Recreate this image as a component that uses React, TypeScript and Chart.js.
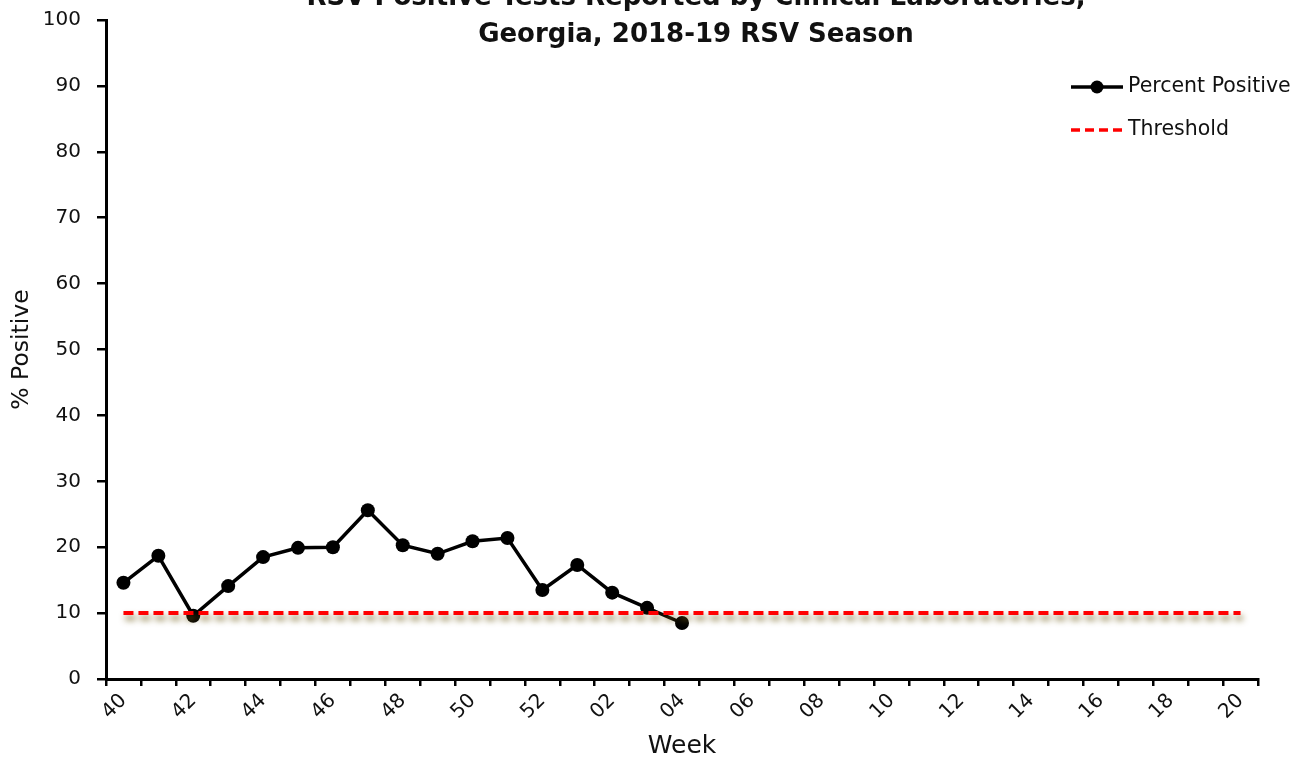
import React, { useEffect, useRef } from 'react';
import { Chart, registerables } from 'chart.js';

Chart.register(...registerables);

const weeks = [
  '40', '41', '42', '43', '44', '45', '46', '47', '48', '49', '50', '51', '52',
  '01', '02', '03', '04', '05', '06', '07', '08', '09', '10', '11', '12', '13',
  '14', '15', '16', '17', '18', '19', '20',
];

const percentPositive = [
  14.6, 18.7, 9.6, 14.1, 18.5, 19.9, 20.0, 25.6, 20.3, 19.0, 20.9, 21.4, 13.5,
  17.3, 13.1, 10.8, 8.5, null, null, null, null, null, null, null, null, null,
  null, null, null, null, null, null, null,
];

const threshold = [
  10, 10, 10, 10, 10, 10, 10, 10, 10, 10, 10, 10, 10, 10, 10, 10, 10, 10, 10,
  10, 10, 10, 10, 10, 10, 10, 10, 10, 10, 10, 10, 10, 10,
];

const titleLines = ['RSV Positive Tests Reported by Clinical Laboratories,', 'Georgia, 2018-19 RSV Season'];
const legendLabels = ['Percent Positive', 'Threshold'];

const FONT = '"DejaVu Sans", "Noto Sans", sans-serif';
const TEXT = '#111111';

const shadowPlugin = {
  id: 'thresholdShadow',
  beforeDatasetDraw(chart: any, args: any) {
    if (args.index !== 1) return;
    const ctx = chart.ctx;
    ctx.save();
    ctx.shadowColor = 'rgba(110, 90, 20, 0.8)';
    ctx.shadowBlur = 6;
    ctx.shadowOffsetX = 2;
    ctx.shadowOffsetY = 5;
  },
  afterDatasetDraw(chart: any, args: any) {
    if (args.index !== 1) return;
    chart.ctx.restore();
  },
};

const titleLegendPlugin = {
  id: 'titleLegend',
  afterDraw(chart: any) {
    const ctx = chart.ctx;
    ctx.save();
    ctx.fillStyle = TEXT;
    ctx.font = `bold 26px ${FONT}`;
    ctx.textAlign = 'center';
    ctx.textBaseline = 'alphabetic';
    ctx.fillText(titleLines[0], 696, 5);
    ctx.fillText(titleLines[1], 696, 42);

    // legend
    const x0 = 1071;
    const x1 = 1123;
    const y0 = 87;
    const y1 = 130;
    ctx.strokeStyle = '#000000';
    ctx.lineWidth = 3.5;
    ctx.beginPath();
    ctx.moveTo(x0, y0);
    ctx.lineTo(x1, y0);
    ctx.stroke();
    ctx.fillStyle = '#000000';
    ctx.beginPath();
    ctx.arc((x0 + x1) / 2, y0, 6.5, 0, Math.PI * 2);
    ctx.fill();

    ctx.strokeStyle = '#ff0000';
    ctx.setLineDash([9, 5]);
    ctx.beginPath();
    ctx.moveTo(x0, y1);
    ctx.lineTo(x1, y1);
    ctx.stroke();
    ctx.setLineDash([]);

    ctx.fillStyle = TEXT;
    ctx.font = `20.5px ${FONT}`;
    ctx.textAlign = 'left';
    ctx.textBaseline = 'middle';
    ctx.fillText(legendLabels[0], 1128, y0);
    ctx.fillText(legendLabels[1], 1128, y1);
    ctx.restore();
  },
};

export default function App() {
  const canvasRef = useRef<HTMLCanvasElement | null>(null);

  useEffect(() => {
    if (!canvasRef.current) return;
    const chart = new Chart(canvasRef.current, {
      type: 'line',
      data: {
        labels: weeks,
        datasets: [
          {
            label: legendLabels[0],
            data: percentPositive,
            borderColor: '#000000',
            backgroundColor: '#000000',
            borderWidth: 3.5,
            pointRadius: 7,
            pointBackgroundColor: '#000000',
            pointBorderWidth: 0,
            tension: 0,
            spanGaps: false,
            order: 1,
          },
          {
            label: legendLabels[1],
            data: threshold,
            borderColor: '#ff0000',
            borderWidth: 4,
            borderDash: [10, 5],
            pointRadius: 0,
            tension: 0,
            order: 0,
          },
        ],
      },
      options: {
        animation: false,
        responsive: true,
        maintainAspectRatio: false,
        layout: { padding: { left: 0, right: 36, top: 20, bottom: 0 } },
        plugins: {
          legend: { display: false },
          title: { display: false },
          tooltip: { enabled: false },
        },
        scales: {
          x: {
            type: 'category',
            offset: true,
            grid: {
              display: true,
              offset: true,
              drawOnChartArea: false,
              drawTicks: true,
              tickLength: 7,
              color: '#000000',
              lineWidth: 2.5,
            },
            border: { display: true, color: '#000000', width: 3 },
            ticks: {
              autoSkip: false,
              maxRotation: 45,
              minRotation: 45,
              padding: 3,
              color: TEXT,
              font: { family: FONT, size: 20 },
              callback: (_v: any, i: number) => (i % 2 === 0 ? weeks[i] : ''),
            },
            title: {
              display: true,
              text: 'Week',
              color: TEXT,
              font: { family: FONT, size: 25 },
              padding: { top: 0, bottom: 0 },
            },
            afterFit: (scale: any) => {
              scale.height = 82;
            },
          },
          y: {
            min: 0,
            max: 100,
            ticks: {
              stepSize: 10,
              padding: 16,
              color: TEXT,
              font: { family: FONT, size: 20 },
            },
            grid: {
              display: true,
              drawOnChartArea: false,
              drawTicks: true,
              tickLength: 9,
              color: '#000000',
              lineWidth: 2.5,
            },
            border: { display: true, color: '#000000', width: 3 },
            title: {
              display: true,
              text: '% Positive',
              color: TEXT,
              font: { family: FONT, size: 23.5 },
              padding: { top: 8, bottom: 0 },
            },
            afterFit: (scale: any) => {
              scale.width = 106;
              scale.paddingTop = 0;
              scale.paddingBottom = 0;
            },
          },
        },
      },
      plugins: [shadowPlugin, titleLegendPlugin],
    });
    return () => chart.destroy();
  }, []);

  return (
    <div style={{ position: 'absolute', left: 0, top: 0, width: 1294, height: 761, background: '#ffffff' }}>
      <canvas ref={canvasRef} />
    </div>
  );
}
